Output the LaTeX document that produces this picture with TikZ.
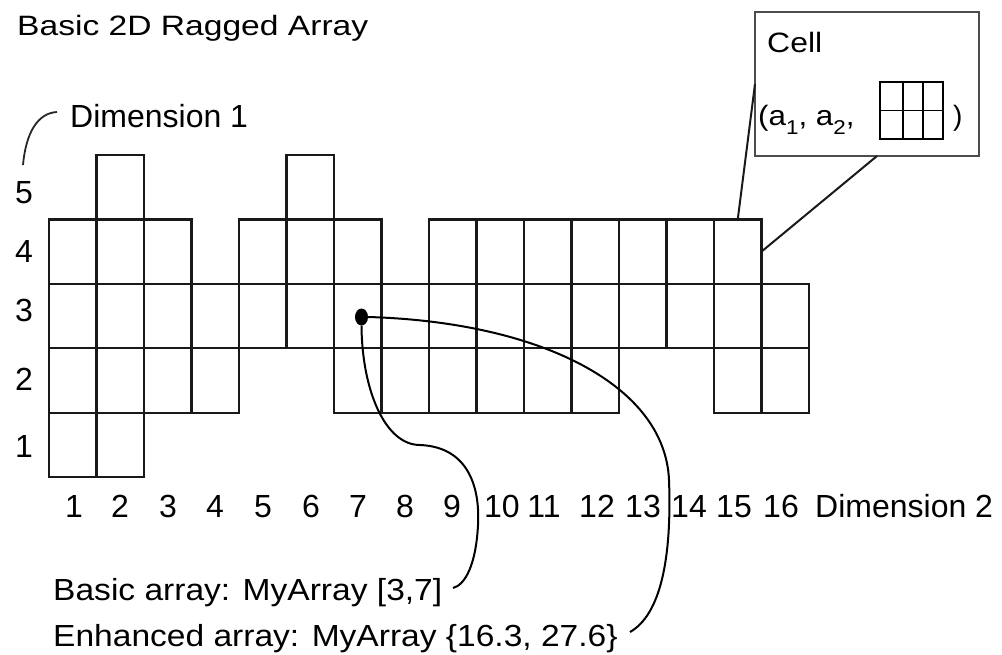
\documentclass[tikz,border=0pt]{standalone}
\usepackage{fontspec}
\setmainfont{Liberation Sans}
\usetikzlibrary{shapes.geometric,calc}
\newcommand\sx[2]{\scalebox{#1}[1]{#2}}
\begin{document}
\begin{tikzpicture}[x=1pt,y=-1pt,
  cellst/.style={draw=black!90, line width=2.2pt, minimum width=47.5pt, minimum height=64.4pt, inner sep=0pt, outer sep=0pt},
  lbl/.style={inner sep=0pt, anchor=base, font=\fontsize{32}{38}\selectfont},
  txt/.style={inner sep=0pt, anchor=base west},
  conn/.style={line width=2pt, black},
  callout/.style={line width=2pt, black!90},
  boxst/.style={draw=black!70, line width=2.2pt, inner sep=0pt, outer sep=0pt},
]
\useasboundingbox (0,0) rectangle (1002,654);

% title
\node[txt, font=\fontsize{28}{34}\selectfont] (title) at (17,35) {\sx{1.2}{Basic 2D Ragged Array}};

% grid cells
\foreach \c/\b/\t in {1/1/4, 2/1/5, 3/2/4, 4/2/3, 5/3/4, 6/3/5, 7/2/4, 8/2/3,
                      9/2/4, 10/2/4, 11/2/4, 12/2/4, 13/3/4, 14/3/4, 15/2/4, 16/2/3}{
  \foreach \r in {\b,...,\t}{
    \node[cellst] (c\c-\r) at ({49+47.5*(\c-0.5)}, {477-64.4*(\r-0.5)}) {};
  }
}

% row labels
\foreach \r/\yy in {1/457, 2/390, 3/321, 4/262, 5/203}
  \node[lbl] (row\r) at (24,\yy) {\r};

% column labels
\foreach \c/\xx in {1/74, 2/120, 3/168, 4/215, 5/263, 6/311, 7/358, 8/405, 9/452,
                    10/502, 11/544, 12/597, 13/643, 14/689, 15/734, 16/781}
  \node[lbl] (col\c) at (\xx,517) {\c};

\node[txt, font=\fontsize{32}{38}\selectfont] (dim2) at (815,517) {Dimension 2};
\node[txt, font=\fontsize{32}{38}\selectfont] (dim1) at (70,127) {Dimension 1};
\coordinate (d1a) at (23,165);
\coordinate (d1b) at (57,112);
\draw[line width=1.8pt, black!85] (d1a) .. controls (26,132) and (38,113) .. (d1b);

% cell callout box
\node[boxst, minimum width=224pt, minimum height=144pt] (cellbox) at (867,84) {};
\node[txt, font=\fontsize{28}{34}\selectfont] (celltxt) at (767,52) {\sx{1.14}{Cell}};
\node[txt, font=\fontsize{28}{34}\selectfont] (tuple) at (758,125)
  {\sx{1.12}{(a\raisebox{-9pt}{\fontsize{20}{20}\selectfont 1}, a\raisebox{-9pt}{\fontsize{20}{20}\selectfont 2},}};
\node[draw=black, line width=1.8pt, minimum width=63pt, minimum height=57pt, inner sep=0pt, outer sep=0pt] (mg) at (911.5,110.5) {};
\draw[line width=1.8pt] ($(mg.north west)!0.36!(mg.north east)$) -- ($(mg.south west)!0.36!(mg.south east)$);
\draw[line width=1.8pt] ($(mg.north west)!0.68!(mg.north east)$) -- ($(mg.south west)!0.68!(mg.south east)$);
\draw[line width=1.8pt] (mg.west) -- (mg.east);
\node[txt, font=\fontsize{28}{34}\selectfont] (rpar) at (953,125) {)};

\draw[callout] (cellbox.west) -- (c15-4.north);
\draw[callout] ([xshift=10pt]cellbox.south) -- (c15-4.east);

% point and connectors
\node[fill=black, ellipse, minimum width=13pt, minimum height=17pt, inner sep=0pt] (dot) at (361.5,317) {};

\node[txt, font=\fontsize{30.5}{36}\selectfont] (basic) at (53,600) {\sx{1.1}{Basic array: MyArray [3,7]}};
\node[txt, font=\fontsize{30.5}{36}\selectfont] (enh) at (53,646) {\sx{1.1}{Enhanced array: MyArray \{16.3, 27.6\}}};
\coordinate (e1) at (453,588);
\coordinate (e2) at (630,632);

\draw[conn] (dot.south) .. controls (362,390) and (385,445) .. (420,445)
  .. controls (470,447) and (480,490) .. (478,525)
  .. controls (476,565) and (465,585) .. (e1);
\draw[conn] (dot.east) .. controls (540,322) and (665,385) .. (669,480)
  .. controls (672,560) and (660,615) .. (e2);
\end{tikzpicture}
\end{document}
